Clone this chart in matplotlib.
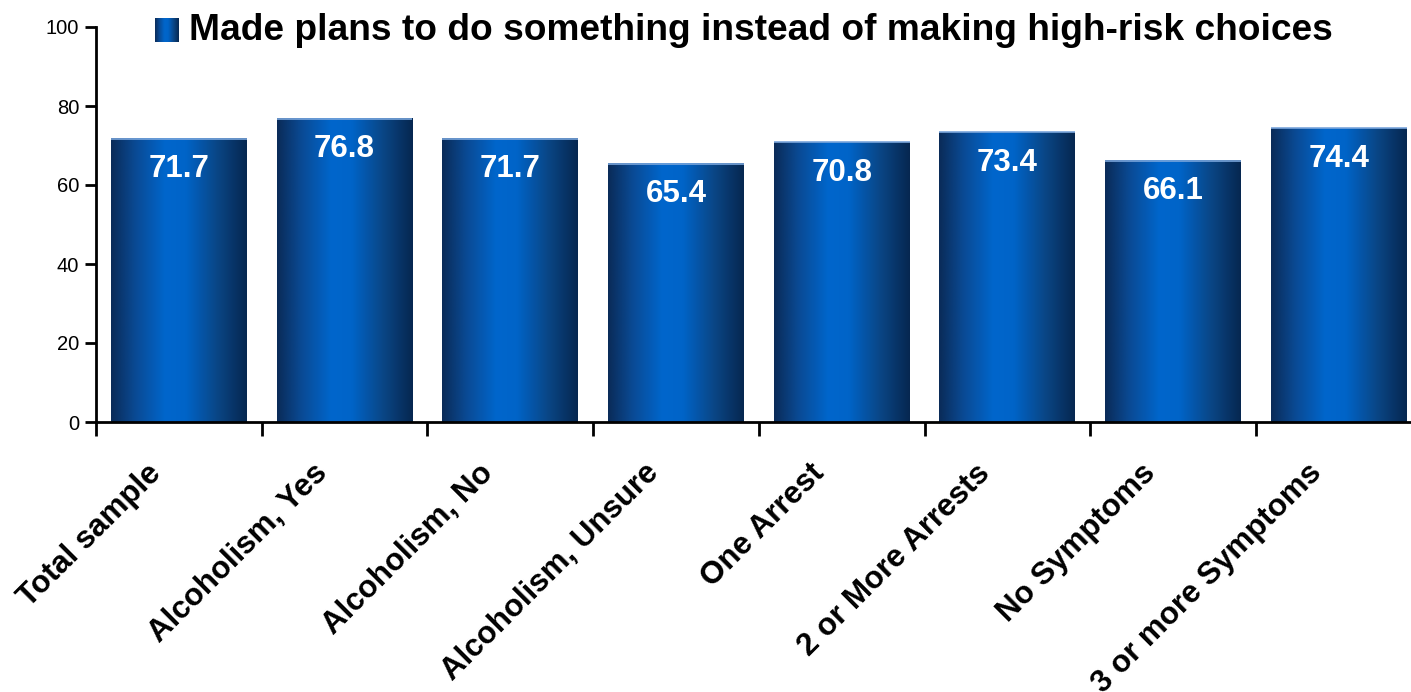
import numpy as np
import matplotlib
matplotlib.use("Agg")
import matplotlib.pyplot as plt
from matplotlib.colors import LinearSegmentedColormap

plt.rcParams['font.family'] = ['Liberation Sans', 'DejaVu Sans']

# Data
categories = ["Total sample", "Alcoholism, Yes", "Alcoholism, No", "Alcoholism, Unsure",
              "One Arrest", "2 or More Arrests", "No Symptoms", "3 or more Symptoms"]
values = [71.7, 76.8, 71.7, 65.4, 70.8, 73.4, 66.1, 74.4]
series_name = "Made plans to do something instead of making high-risk choices"
y_ticks = [0, 20, 40, 60, 80, 100]

# Horizontal cylinder-like shading for bars
bar_cmap = LinearSegmentedColormap.from_list(
    "bar_shade",
    [(0.0, "#0a2b58"), (0.18, "#0a4a94"), (0.40, "#0066cc"),
     (0.55, "#0064c8"), (0.78, "#0a4686"), (1.0, "#062750")])
shade = np.linspace(0, 1, 256).reshape(1, -1)

W, H = 1411, 692
fig = plt.figure(figsize=(W / 100, H / 100), dpi=100)
ax = fig.add_axes([96 / W, (H - 422) / H, 1325.6 / W, 395 / H])

n = len(categories)
width = 0.82
ax.set_xlim(0, n)
ax.set_ylim(0, 100)

for i, v in enumerate(values):
    x0 = i + (1 - width) / 2
    x1 = x0 + width
    ax.imshow(shade, cmap=bar_cmap, extent=(x0, x1, 0, v), aspect="auto",
              interpolation="bicubic", zorder=2)
    ax.plot([x0, x1], [v, v], color="#7aa6dc", lw=1.2, zorder=3,
            solid_capstyle="butt")
    ax.annotate(f"{v:.1f}", xy=(i + 0.5, v), xytext=(0, -22),
                textcoords="offset points", ha="center", va="center",
                color="white", fontsize=22.5, fontweight="bold", zorder=4)

ax.set_xlim(0, n)
ax.set_ylim(0, 100)

# Axes styling
for side in ("top", "right"):
    ax.spines[side].set_visible(False)
for side in ("left", "bottom"):
    ax.spines[side].set_linewidth(2)
    ax.spines[side].set_color("black")

ax.set_yticks(y_ticks)
ax.tick_params(axis="y", length=8, width=2, labelsize=14.5, pad=4, direction="out")
ax.set_xticks(np.arange(0, n + 1))
ax.tick_params(axis="x", length=10, width=2, direction="out", labelbottom=False)

# Category labels, rotated
for i, lab in enumerate(categories):
    ax.annotate(lab, xy=(i + 0.5, 0), xycoords="data",
                xytext=(-8, -26), textcoords="offset points",
                rotation=45, ha="right", va="top", rotation_mode="default",
                fontsize=22.5, fontweight="bold", annotation_clip=False)

# Legend: shaded swatch plus series name
sw = fig.add_axes([155 / W, (H - 42) / H, 24 / W, 24 / H])
sw.imshow(shade, cmap=bar_cmap, aspect="auto", interpolation="bicubic")
sw.set_axis_off()
fig.text(189 / W, (H - 31) / H, series_name, ha="left", va="center",
         fontsize=26.7, fontweight="bold")

fig.savefig("out.png", dpi=100)
